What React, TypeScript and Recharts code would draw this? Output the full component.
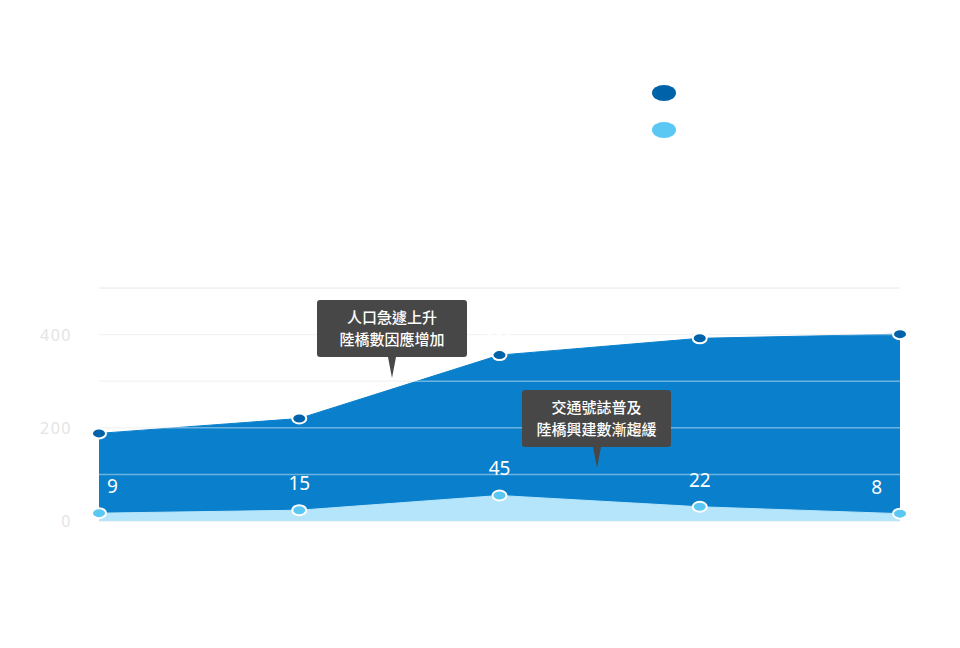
import React from "react";
import {
  AreaChart,
  Area,
  XAxis,
  YAxis,
  CartesianGrid,
  ReferenceLine,
  LabelList,
} from "recharts";

// values
const years = ["1970", "1980", "1990", "2000", "2010"];
const rocYears = ["(民國59)", "(民國69)", "(民國79)", "(民國89)", "(民國99)"];
const totalBridges = [188, 220, 356, 392, 401];
const newBridges = [9, 15, 45, 22, 8];
const yTicks = [0, 100, 200, 300, 400, 500];
const overlayLines = [100, 200, 300, 400];

const seriesNames = ["陸橋總數（座）", "新建陸橋數（座）"];
const DARK_FILL = "#0a80cc";
const DARK_DOT = "#0062a9";
const LIGHT_FILL = "#b4e5fb";
const LIGHT_DOT = "#5bc8f4";
const HIDDEN_TEXT = "#ffffff";

const FONT = '"Noto Sans", "Noto Sans CJK TC", sans-serif';

const data = years.map((year, i) => ({
  year,
  roc: rocYears[i],
  total: totalBridges[i],
  added: newBridges[i],
}));

const makeDot = (fill: string) => (props: any) => {
  const { cx, cy, index } = props;
  if (cx == null || cy == null) return <g key={`d-${index}`} />;
  return (
    <ellipse
      key={`d-${fill}-${index}`}
      cx={cx}
      cy={cy}
      rx={7}
      ry={5}
      fill={fill}
      stroke="#fff"
      strokeWidth={2}
    />
  );
};

const makeLabel = (fontSize: number, lift: number) => (props: any) => {
  const { x, y, value, index } = props;
  let anchor: "start" | "middle" | "end" = "middle";
  let dx = 0;
  if (index === 0) {
    anchor = "start";
    dx = 8;
  } else if (index === years.length - 1) {
    anchor = "end";
    dx = -18;
  }
  return (
    <text
      x={x + dx}
      y={y - lift}
      fill="#ffffff"
      fontSize={fontSize}
      fontFamily={FONT}
      textAnchor={anchor}
      dominantBaseline="central"
    >
      {value}
    </text>
  );
};

const XTick = ({ x, y, payload, index }: any) => (
  <g transform={`translate(${x},${y})`}>
    <text
      x={0}
      y={27}
      textAnchor="middle"
      fill={HIDDEN_TEXT}
      fontSize={15}
      fontFamily={FONT}
      dominantBaseline="central"
    >
      {payload.value}
    </text>
    <text
      x={0}
      y={51}
      textAnchor="middle"
      fill={HIDDEN_TEXT}
      fontSize={14}
      fontFamily={FONT}
      dominantBaseline="central"
    >
      {rocYears[index ?? years.indexOf(payload.value)]}
    </text>
  </g>
);

const YTick = ({ x, y, payload }: any) => {
  const v = payload.value as number;
  if (v % 200 !== 0 || v > 400) return <g />;
  return (
    <text
      x={x - 19}
      y={y}
      textAnchor="end"
      dominantBaseline="central"
      fill="#e4e4e4"
      fontSize={16}
      letterSpacing={1.5}
      fontFamily={FONT}
    >
      {v}
    </text>
  );
};

const LegendBox = () => (
  <div
    style={{
      position: "absolute",
      left: 644,
      top: 66,
      width: 260,
      fontFamily: FONT,
      color: HIDDEN_TEXT,
    }}
  >
    {seriesNames.map((name, i) => (
      <div
        key={name}
        style={{ display: "flex", alignItems: "center", height: 37 }}
      >
        <span
          style={{
            display: "inline-block",
            width: 24,
            height: 16,
            borderRadius: "50%",
            background: i === 0 ? DARK_DOT : LIGHT_DOT,
            marginRight: 15,
          }}
        />
        <span style={{ fontSize: 16 }}>{name}</span>
      </div>
    ))}
    <div
      style={{
        marginTop: 42,
        fontSize: 14,
        lineHeight: "27px",
        textAlign: "center",
        width: 220,
        marginLeft: -10,
      }}
    >
      資料來源：臺北市政府工務局
      <br />
      （統計至民國99年）
    </div>
  </div>
);

const Callout = ({
  left,
  top,
  width,
  lines,
}: {
  left: number;
  top: number;
  width: number;
  lines: string[];
}) => (
  <div style={{ position: "absolute", left, top, width }}>
    <div
      style={{
        background: "#474747",
        borderRadius: 3,
        color: "#fff",
        fontFamily: '"Noto Sans CJK TC", sans-serif',
        fontWeight: 500,
        fontSize: 15,
        lineHeight: "22px",
        textAlign: "center",
        padding: "6px 0 7px",
      }}
    >
      {lines.map((l) => (
        <div key={l}>{l}</div>
      ))}
    </div>
    <div
      style={{
        position: "absolute",
        left: width / 2 - 4,
        top: "100%",
        width: 0,
        height: 0,
        borderLeft: "4px solid transparent",
        borderRight: "4px solid transparent",
        borderTop: "21px solid #474747",
      }}
    />
  </div>
);

export default function App() {
  return (
    <div style={{ position: "relative", width: 944, height: 632 }}>
      <div
        style={{
          position: "absolute",
          left: 132,
          top: 44,
          color: HIDDEN_TEXT,
          fontFamily: '"Noto Sans CJK TC", sans-serif',
        }}
      >
        <div style={{ fontSize: 15, lineHeight: "30px" }}>臺北市 行人陸橋</div>
        <div style={{ fontSize: 15, lineHeight: "30px" }}>1970 – 2010 統計</div>
        <div style={{ fontSize: 38, lineHeight: "66px", marginTop: 4 }}>
          歷年陸橋數量變化
        </div>
        <div style={{ fontSize: 38, lineHeight: "66px", paddingLeft: 14 }}>
          與新建陸橋統計
        </div>
      </div>

      <LegendBox />

      <div style={{ position: "absolute", left: 0, top: 0 }}>
        <AreaChart
          width={944}
          height={600}
          data={data}
          margin={{ top: 280, right: 52, bottom: 27, left: 31 }}
        >
          <CartesianGrid
            yAxisId="main"
            vertical={false}
            stroke="#e8e8e8"
            strokeWidth={1}
          />
          <XAxis
            dataKey="year"
            height={60}
            axisLine={false}
            tickLine={false}
            interval={0}
            tick={<XTick />}
          />
          <YAxis
            yAxisId="main"
            width={60}
            domain={[0, 500]}
            ticks={yTicks}
            axisLine={false}
            tickLine={false}
            tick={<YTick />}
          />
          <YAxis
            yAxisId="light"
            orientation="right"
            hide
            type="number"
            domain={[-7, 468]}
            allowDataOverflow
          />
          <Area
            yAxisId="main"
            type="linear"
            dataKey="total"
            name={seriesNames[0]}
            fill={DARK_FILL}
            fillOpacity={1}
            stroke={DARK_FILL}
            strokeWidth={1}
            dot={makeDot(DARK_DOT)}
            activeDot={false}
            isAnimationActive={false}
          >
            <LabelList dataKey="total" content={makeLabel(16, 26)} />
          </Area>
          <Area
            yAxisId="light"
            type="linear"
            dataKey="added"
            name={seriesNames[1]}
            baseValue="dataMin"
            fill={LIGHT_FILL}
            fillOpacity={1}
            stroke={LIGHT_FILL}
            strokeWidth={1}
            dot={makeDot(LIGHT_DOT)}
            activeDot={false}
            isAnimationActive={false}
          >
            <LabelList dataKey="added" content={makeLabel(19, 27)} />
          </Area>
          {overlayLines.map((v) => (
            <ReferenceLine
              key={v}
              yAxisId="main"
              y={v}
              stroke="#ffffff"
              strokeOpacity={0.4}
              strokeWidth={1.5}
            />
          ))}
        </AreaChart>
      </div>

      <Callout
        left={309}
        top={292}
        width={150}
        lines={["人口急遽上升", "陸橋數因應增加"]}
      />
      <Callout
        left={514}
        top={382}
        width={149}
        lines={["交通號誌普及", "陸橋興建數漸趨緩"]}
      />
    </div>
  );
}
